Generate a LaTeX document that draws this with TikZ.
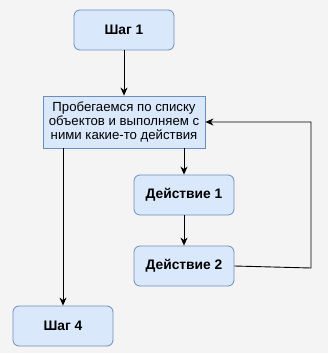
\documentclass[tikz,border=0pt]{standalone}
\usepackage{fontspec}
\setmainfont{Liberation Sans}
\usetikzlibrary{arrows.meta}
\definecolor{bg}{HTML}{F4F4F4}
\definecolor{boxfill}{HTML}{DAE8FC}
\definecolor{boxdraw}{HTML}{6C8EBF}
\tikzset{
  x=1pt, y=-1pt,
  box/.style={draw=boxdraw, fill=boxfill, line width=0.8pt, minimum width=100pt, minimum height=40pt, rounded corners=6pt, inner sep=0pt, font=\fontsize{13.8}{16}\selectfont\bfseries},
  bigbox/.style={draw=boxdraw, fill=boxfill, line width=0.8pt, minimum width=162pt, minimum height=52pt, inner sep=0pt, align=center, font=\fontsize{13.2}{14}\selectfont},
  conn/.style={draw=black, line width=0.9pt, -{Stealth[length=8pt,width=7pt,inset=2.5pt]}},
}
\begin{document}
\begin{tikzpicture}
\fill[bg] (0,0) rectangle (328,353);
\useasboundingbox (0,0) rectangle (328,353);
\node[box] (s1) at (124,30) {Шаг 1};
\node[bigbox] (loop) at (124,122) {Пробегаемся по списку\\объектов и выполняем с\\ними какие-то действия};
\node[box] (d1) at (184,195) {Действие 1};
\node[box] (d2) at (184,266) {Действие 2};
\node[box] (s4) at (63,326) {Шаг 4};
\coordinate (c1) at (311,268);
\coordinate (c2) at (311,122);
\draw[conn] (s1) -- (loop);
\draw[conn] (loop.south -| d1) -- (d1);
\draw[conn] (d1) -- (d2);
\draw[conn] (d2.east) -- (c1) -- (c2) -- (loop.east);
\draw[conn] (loop.south -| s4) -- (s4);
\end{tikzpicture}
\end{document}
